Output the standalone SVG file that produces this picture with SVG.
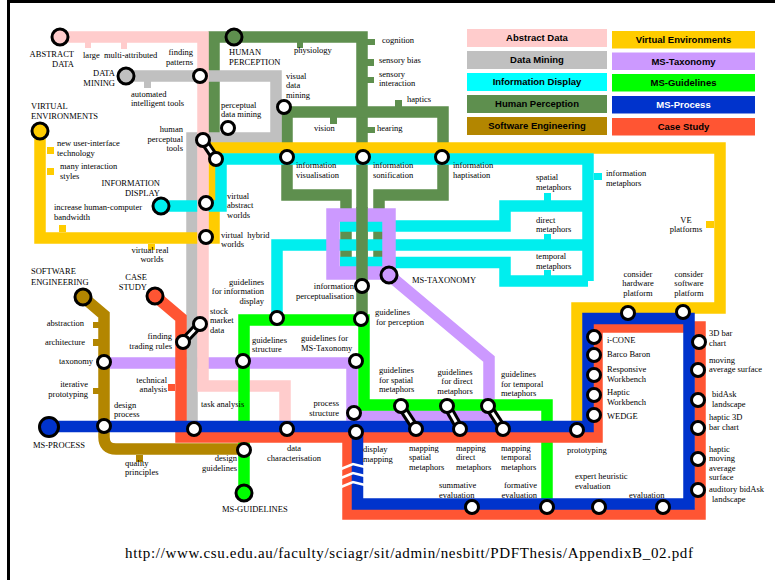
<svg xmlns="http://www.w3.org/2000/svg" width="775" height="580" viewBox="0 0 775 580">
<style>
.ln{fill:none;stroke-width:11.5;stroke-linejoin:miter}
.pk{stroke:#ffcccc}.gy{stroke:#c0c0c0}.cy{stroke:#00eeee}.hp{stroke:#5e8f4e}.se{stroke:#b38600}.ve{stroke:#ffcc00}.tx{stroke:#cc99ff}.gl{stroke:#00ff00}.pr{stroke:#0033cc}.cs{stroke:#ff5533}
.fpk{fill:#ffcccc}.fgy{fill:#c0c0c0}.fcy{fill:#00eeee}.fhp{fill:#5e8f4e}.fse{fill:#b38600}.fve{fill:#ffcc00}.ftx{fill:#cc99ff}.fgl{fill:#00ff00}.fpr{fill:#0033cc}.fcs{fill:#ff5533}
.st{fill:#fff;stroke:#000;stroke-width:3}
.tm{stroke:#000;stroke-width:3}
.tube{stroke:#000;stroke-width:9}
.tubei{stroke:#fff;stroke-width:3}
.brk{fill:none;stroke:#fff;stroke-width:2.5}
text{font-family:"Liberation Serif","Times New Roman",serif;font-size:8.5px;fill:#000}
.lg{font-family:"Liberation Sans",Arial,sans-serif;font-size:9.5px;font-weight:bold;text-anchor:middle}
.e{text-anchor:end}.m{text-anchor:middle}
</style>
<rect width="775" height="580" fill="#fff"/>
<g id="frame" stroke="#000" stroke-width="3">
<line x1="7" y1="1.5" x2="775" y2="1.5"/>
<line x1="8.5" y1="0" x2="8.5" y2="580"/>
</g>
<g id="legend">
<rect x="467" y="29" width="140" height="18" fill="#ffcccc"/><text class="lg" x="537" y="41">Abstract Data</text>
<rect x="467" y="51" width="140" height="18" fill="#c0c0c0"/><text class="lg" x="537" y="63">Data Mining</text>
<rect x="467" y="73" width="140" height="18" fill="#00ffff"/><text class="lg" x="537" y="85">Information Display</text>
<rect x="467" y="95" width="140" height="18" fill="#5e8f4e"/><text class="lg" x="537" y="107">Human Perception</text>
<rect x="467" y="117" width="140" height="18" fill="#b38600"/><text class="lg" x="537" y="129">Software Engineering</text>
<rect x="612" y="31" width="143" height="17.5" fill="#ffcc00"/><text class="lg" x="683.5" y="43">Virtual Environments</text>
<rect x="612" y="52.5" width="143" height="17.5" fill="#cc99ff"/><text class="lg" x="683.5" y="64.5">MS-Taxonomy</text>
<rect x="612" y="74" width="143" height="17.5" fill="#00ff00"/><text class="lg" x="683.5" y="86">MS-Guidelines</text>
<rect x="612" y="96" width="143" height="17.5" fill="#0033cc"/><text class="lg" x="683.5" y="108" style="fill:#fff">MS-Process</text>
<rect x="612" y="118" width="143" height="17.5" fill="#ff5533"/><text class="lg" x="683.5" y="130">Case Study</text>
</g>
<g id="connectors">
<path class="ln tx" d="M389,275 L489,359 V415 H352 V363 H104"/>
<g id="line-human-perception">
<path class="ln hp" d="M214,133 V37 H362 V320"/>
<path class="ln hp" d="M287,157 V112 H443 V157"/>
<path class="ln hp" d="M287,157 V195 H346 V267"/>
<path class="ln hp" d="M443,157 V195 H379 V267"/>
<rect class="fhp" x="297" y="42" width="6" height="6"/>
<rect class="fhp" x="367" y="39" width="8" height="6"/>
<rect class="fhp" x="367" y="59" width="7" height="7"/>
<rect class="fhp" x="367" y="77" width="7" height="6"/>
<rect class="fhp" x="395" y="100" width="7" height="7"/>
<rect class="fhp" x="330" y="117" width="7" height="7"/>
<rect class="fhp" x="367" y="127" width="8" height="6"/>
</g>
<g id="line-data-mining">
<path class="ln gy" d="M126,76 H276 V138 H192 V429"/>
<rect class="fgy" x="144" y="81" width="7" height="7"/>
</g>
<g id="line-virtual-environments">
<path class="ln ve" d="M40,131 V238 H214 V148 H720 V308 H577 V430"/>
<rect class="fve" x="47" y="147" width="7" height="7"/>
<rect class="fve" x="47" y="168" width="7" height="7"/>
<rect class="fve" x="59" y="225" width="7" height="7"/>
<rect class="fve" x="148" y="244" width="7" height="6"/>
<rect class="fve" x="706" y="221" width="8" height="7"/>
</g>
<g id="line-information-display">
<path class="ln cy" d="M161,206 H221 V159 H588 V281"/>
<path class="ln cy" d="M340,226 H505 V206 H588"/>
<path class="ln cy" d="M277,318 V245 H588"/>
<path class="ln cy" d="M340,262.5 H505 V281 H588"/>
<rect class="fcy" x="594" y="173" width="8" height="7"/>
<rect class="fcy" x="544" y="193" width="7" height="8"/>
<rect class="fcy" x="544" y="234" width="7" height="7"/>
<rect class="fcy" x="544" y="270" width="7" height="7"/>
</g>
<rect x="333" y="215" width="56" height="58" fill="none" stroke="#cc99ff" stroke-width="13.5"/>
<path class="ln hp" d="M362,207 V281"/>
<g id="line-abstract-data">
<path class="ln pk" d="M60,37 H203 V386 H285 V429"/>
<rect class="fpk" x="85" y="42" width="6" height="6"/>
<rect class="fpk" x="121" y="42" width="6" height="7"/>
</g>
<g id="line-software-engineering">
<path class="ln se" d="M83,297 L104,315 V437 Q104,449 116,449 H244"/>
<rect class="fse" x="93" y="322" width="6" height="6"/>
<rect class="fse" x="93" y="339" width="6" height="7"/>
<rect class="fse" x="93" y="388" width="6" height="6"/>
<rect class="fse" x="136" y="455" width="7" height="7"/>
</g>
<path class="ln gl" d="M244,493 V320 H364 V405 H547 V507"/>
<g id="line-case-study">
<path class="ln cs" d="M155,296 L181,318 V437 H597 V327 H700 V514 H348 V437"/>
<rect class="fcs" x="168" y="384" width="7" height="7"/>
</g>
<path class="ln pr" d="M49,426.5 H588 V318.5 H689 V504 H357.5 V426.5"/>
<path class="brk" d="M341,469 L353,464 L365,467"/>
<path class="brk" d="M341,478 L353,473 L365,476"/>
<path class="brk" d="M341,487 L353,482 L365,485"/>
<g id="links">
<line class="tube" x1="203" y1="140" x2="216" y2="159"/><line class="tubei" x1="203" y1="140" x2="216" y2="159"/>
<line class="tube" x1="200" y1="324" x2="183" y2="342"/><line class="tubei" x1="200" y1="324" x2="183" y2="342"/>
<line class="tube" x1="401" y1="406" x2="416" y2="429"/><line class="tubei" x1="401" y1="406" x2="416" y2="429"/>
<line class="tube" x1="447" y1="406" x2="460" y2="429"/><line class="tubei" x1="447" y1="406" x2="460" y2="429"/>
<line class="tube" x1="488" y1="406" x2="503" y2="429"/><line class="tubei" x1="488" y1="406" x2="503" y2="429"/>
</g>
</g>
<g id="n-abstract-data"><circle class="tm fpk" cx="60" cy="37" r="8"/><text class="e"><tspan x="74" y="57">ABSTRACT</tspan><tspan x="74" y="67">DATA</tspan></text></g>
<g id="n-large-multi"><text x="83" y="58">large</text><text x="104" y="58">multi-attributed</text></g>
<g id="n-finding-patterns"><circle class="st" cx="200" cy="76" r="6.5"/><text class="e"><tspan x="193" y="55">finding</tspan><tspan x="193" y="65">patterns</tspan></text></g>
<g id="n-human-perception"><circle class="tm fhp" cx="234" cy="37" r="8"/><text><tspan x="229" y="55">HUMAN</tspan><tspan x="229" y="65">PERCEPTION</tspan></text></g>
<g id="n-data-mining"><circle class="tm fgy" cx="126" cy="76" r="8"/><text class="e"><tspan x="115" y="76">DATA</tspan><tspan x="115" y="86">MINING</tspan></text></g>
<g id="n-automated"><text><tspan x="131" y="96.75">automated</tspan><tspan x="131" y="106.25">intelligent tools</tspan></text></g>
<g id="n-virtual-environments"><circle class="tm fve" cx="40" cy="131" r="8"/><text><tspan x="31" y="109">VIRTUAL</tspan><tspan x="31" y="119">ENVIRONMENTS</tspan></text></g>
<g id="n-perceptual-data-mining"><circle class="st" cx="228" cy="128" r="6.5"/><text><tspan x="221" y="107.75">perceptual</tspan><tspan x="221" y="117.25">data mining</tspan></text></g>
<g id="n-human-perceptual-tools"><circle class="st" cx="203" cy="140" r="6.5"/><circle class="st" cx="216" cy="159" r="6.5"/><text class="e"><tspan x="183" y="132.2">human</tspan><tspan x="183" y="141.7">perceptual</tspan><tspan x="183" y="151.2">tools</tspan></text></g>
<g id="n-new-ui"><text><tspan x="57" y="146.25">new user-interface</tspan><tspan x="57" y="155.75">technology</tspan></text></g>
<g id="n-many-interaction"><text><tspan x="60" y="169.25">many interaction</tspan><tspan x="60" y="178.75">styles</tspan></text></g>
<g id="n-physiology"><text x="294" y="53">physiology</text></g>
<g id="n-cognition"><text x="382" y="43">cognition</text></g>
<g id="n-sensory-bias"><text x="379" y="63">sensory bias</text></g>
<g id="n-sensory-interaction"><text><tspan x="379" y="76.75">sensory</tspan><tspan x="379" y="86.25">interaction</tspan></text></g>
<g id="n-visual-data-mining"><circle class="st" cx="284" cy="107" r="6.5"/><text><tspan x="286" y="78.5">visual</tspan><tspan x="286" y="88">data</tspan><tspan x="286" y="97.5">mining</tspan></text></g>
<g id="n-haptics"><text x="407" y="102">haptics</text></g>
<g id="n-vision"><text x="314" y="131">vision</text></g>
<g id="n-hearing"><text x="377" y="131">hearing</text></g>
<g id="n-info-visualisation"><circle class="st" cx="287" cy="157" r="6.5"/><text><tspan x="296" y="168.25">information</tspan><tspan x="296" y="177.75">visualisation</tspan></text></g>
<g id="n-info-sonification"><circle class="st" cx="363" cy="157" r="6.5"/><text><tspan x="373" y="168.25">information</tspan><tspan x="373" y="177.75">sonification</tspan></text></g>
<g id="n-info-haptisation"><circle class="st" cx="442" cy="157" r="6.5"/><text><tspan x="453" y="168.25">information</tspan><tspan x="453" y="177.75">haptisation</tspan></text></g>
<g id="n-spatial-metaphors"><text><tspan x="536" y="180.25">spatial</tspan><tspan x="536" y="189.75">metaphors</tspan></text></g>
<g id="n-direct-metaphors"><text><tspan x="536" y="222.75">direct</tspan><tspan x="536" y="232.25">metaphors</tspan></text></g>
<g id="n-temporal-metaphors"><text><tspan x="536" y="259.25">temporal</tspan><tspan x="536" y="268.75">metaphors</tspan></text></g>
<g id="n-information-metaphors"><text><tspan x="606" y="176.25">information</tspan><tspan x="606" y="185.75">metaphors</tspan></text></g>
<g id="n-ve-platforms"><text class="m"><tspan x="686" y="222.75">VE</tspan><tspan x="686" y="232.25">platforms</tspan></text></g>
<g id="n-hardware-platform"><circle class="st" cx="628" cy="313" r="6.5"/><text class="m"><tspan x="638" y="276.5">consider</tspan><tspan x="638" y="286">hardware</tspan><tspan x="638" y="295.5">platform</tspan></text></g>
<g id="n-software-platform"><circle class="st" cx="683" cy="312" r="6.5"/><text class="m"><tspan x="689" y="276.5">consider</tspan><tspan x="689" y="286">software</tspan><tspan x="689" y="295.5">platform</tspan></text></g>
<g id="n-ms-taxonomy"><circle class="tm ftx" cx="389" cy="275" r="8"/><text x="412" y="283">MS-TAXONOMY</text></g>
<g id="n-information-display"><circle class="tm fcy" cx="161" cy="206" r="8"/><text class="e"><tspan x="160" y="186">INFORMATION</tspan><tspan x="160" y="196">DISPLAY</tspan></text></g>
<g id="n-bandwidth"><text><tspan x="54" y="210.25">increase human-computer</tspan><tspan x="54" y="219.75">bandwidth</tspan></text></g>
<g id="n-virtual-abstract"><circle class="st" cx="206" cy="203" r="6.5"/><text><tspan x="227" y="198.8">virtual</tspan><tspan x="227" y="208.3">abstract</tspan><tspan x="227" y="217.8">worlds</tspan></text></g>
<g id="n-virtual-hybrid"><circle class="st" cx="206" cy="237" r="6.5"/><text word-spacing="2"><tspan x="221" y="237.75">virtual hybrid</tspan><tspan x="221" y="247.25">worlds</tspan></text></g>
<g id="n-virtual-real"><text class="m"><tspan x="150" y="252.75">virtual real</tspan><tspan x="152" y="262.25">worlds</tspan></text></g>
<g id="n-software-engineering"><circle class="tm fse" cx="83" cy="297" r="8"/><text><tspan x="31" y="274">SOFTWARE</tspan><tspan x="31" y="285">ENGINEERING</tspan></text></g>
<g id="n-case-study"><circle class="tm fcs" cx="155" cy="296" r="8"/><text class="e"><tspan x="147" y="280">CASE</tspan><tspan x="147" y="290">STUDY</tspan></text></g>
<g id="n-guidelines-info-display"><circle class="st" cx="277" cy="318" r="6.5"/><text class="e"><tspan x="264" y="284.5">guidelines</tspan><tspan x="264" y="294">for information</tspan><tspan x="264" y="303.5">display</tspan></text></g>
<g id="n-stock-market"><circle class="st" cx="200" cy="324" r="6.5"/><text><tspan x="210" y="313.5">stock</tspan><tspan x="210" y="323">market</tspan><tspan x="210" y="332.5">data</tspan></text></g>
<g id="n-trading-rules"><circle class="st" cx="183" cy="342" r="6.5"/><text class="e"><tspan x="172" y="339.25">finding</tspan><tspan x="172" y="348.75">trading rules</tspan></text></g>
<g id="n-info-perceptualisation"><circle class="st" cx="362" cy="286" r="6.5"/><text class="e"><tspan x="354" y="289.25">information</tspan><tspan x="354" y="298.75">perceptualisation</tspan></text></g>
<g id="n-guidelines-perception"><circle class="st" cx="361" cy="319" r="6.5"/><text><tspan x="375" y="315.25">guidelines</tspan><tspan x="376" y="324.75">for perception</tspan></text></g>
<g id="n-abstraction"><text class="e" x="84" y="326">abstraction</text></g>
<g id="n-architecture"><text class="e" x="85" y="345">architecture</text></g>
<g id="n-taxonomy"><circle class="st" cx="104" cy="362" r="6.5"/><text class="e" x="93" y="364">taxonomy</text></g>
<g id="n-iterative"><text class="e"><tspan x="88" y="387.25">iterative</tspan><tspan x="88" y="396.75">prototyping</tspan></text></g>
<g id="n-design-process"><circle class="st" cx="104" cy="426" r="6.5"/><text><tspan x="114" y="407.75">design</tspan><tspan x="114" y="417.25">process</tspan></text></g>
<g id="n-technical-analysis"><text class="e"><tspan x="167" y="382.75">technical</tspan><tspan x="167" y="392.25">analysis</tspan></text></g>
<g id="n-task-analysis"><circle class="st" cx="194" cy="429" r="6.5"/><text x="201" y="407">task analysis</text></g>
<g id="n-ms-process"><circle class="tm fpr" cx="49" cy="427" r="9.5"/><text x="33" y="448">MS-PROCESS</text></g>
<g id="n-quality"><text><tspan x="125" y="465.75">quality</tspan><tspan x="125" y="475.25">principles</tspan></text></g>
<g id="n-design-guidelines"><circle class="st" cx="244" cy="450" r="6.5"/><text class="e"><tspan x="237" y="461.25">design</tspan><tspan x="237" y="470.75">guidelines</tspan></text></g>
<g id="n-ms-guidelines"><circle class="tm fgl" cx="244" cy="493" r="8"/><text x="222" y="512">MS-GUIDELINES</text></g>
<g id="n-guidelines-structure"><circle class="st" cx="243" cy="361" r="6.5"/><text><tspan x="252" y="342.75">guidelines</tspan><tspan x="252" y="352.25">structure</tspan></text></g>
<g id="n-guidelines-ms-taxonomy"><circle class="st" cx="356" cy="361" r="6.5"/><text><tspan x="301" y="341.25">guidelines for</tspan><tspan x="301" y="350.75">MS-Taxonomy</tspan></text></g>
<g id="n-process-structure"><circle class="st" cx="354" cy="413" r="6.5"/><text class="e"><tspan x="339" y="406.25">process</tspan><tspan x="339" y="415.75">structure</tspan></text></g>
<g id="n-data-characterisation"><circle class="st" cx="287" cy="429" r="6.5"/><text class="m"><tspan x="294" y="451.25">data</tspan><tspan x="294" y="460.75">characterisation</tspan></text></g>
<g id="n-display-mapping"><circle class="st" cx="356" cy="432" r="6.5"/><text><tspan x="363" y="452.25">display</tspan><tspan x="363" y="461.75">mapping</tspan></text></g>
<g id="n-guidelines-spatial"><circle class="st" cx="401" cy="406" r="6.5"/><text><tspan x="379" y="373.2">guidelines</tspan><tspan x="379" y="382.7">for spatial</tspan><tspan x="379" y="392.2">metaphors</tspan></text></g>
<g id="n-guidelines-direct"><circle class="st" cx="447" cy="406" r="6.5"/><text class="m"><tspan x="455" y="374.8">guidelines</tspan><tspan x="457" y="384.3">for direct</tspan><tspan x="455" y="393.8">metaphors</tspan></text></g>
<g id="n-guidelines-temporal"><circle class="st" cx="488" cy="406" r="6.5"/><text><tspan x="501" y="377.2">guidelines</tspan><tspan x="501" y="386.7">for temporal</tspan><tspan x="501" y="396.2">metaphors</tspan></text></g>
<g id="n-mapping-spatial"><circle class="st" cx="416" cy="429" r="6.5"/><text><tspan x="409" y="450.5">mapping</tspan><tspan x="409" y="460">spatial</tspan><tspan x="409" y="469.5">metaphors</tspan></text></g>
<g id="n-mapping-direct"><circle class="st" cx="460" cy="429" r="6.5"/><text><tspan x="456" y="450.5">mapping</tspan><tspan x="456" y="460">direct</tspan><tspan x="456" y="469.5">metaphors</tspan></text></g>
<g id="n-mapping-temporal"><circle class="st" cx="503" cy="429" r="6.5"/><text><tspan x="501" y="450.5">mapping</tspan><tspan x="501" y="460">temporal</tspan><tspan x="501" y="469.5">metaphors</tspan></text></g>
<g id="n-summative"><circle class="st" cx="472" cy="507" r="6.5"/><text><tspan x="439" y="488.25">summative</tspan><tspan x="439" y="497.75">evaluation</tspan></text></g>
<g id="n-formative"><circle class="st" cx="547" cy="507" r="6.5"/><text class="e"><tspan x="537" y="488.25">formative</tspan><tspan x="537" y="497.75">evaluation</tspan></text></g>
<g id="n-prototyping"><circle class="st" cx="577" cy="430" r="6.5"/><text x="567" y="453">prototyping</text></g>
<g id="n-expert-heuristic"><circle class="st" cx="599" cy="507" r="6.5"/><text><tspan x="575" y="479.25">expert heuristic</tspan><tspan x="575" y="488.75">evaluation</tspan></text></g>
<g id="n-evaluation"><circle class="st" cx="663" cy="507" r="6.5"/><text x="629" y="498">evaluation</text></g>
<g id="n-i-cone"><circle class="st" cx="594" cy="337" r="6.5"/><text x="607" y="343">i-CONE</text></g>
<g id="n-barco-baron"><circle class="st" cx="594" cy="355" r="6.5"/><text x="607" y="357">Barco Baron</text></g>
<g id="n-responsive-workbench"><circle class="st" cx="594" cy="375" r="6.5"/><text><tspan x="607" y="372.25">Responsive</tspan><tspan x="607" y="381.75">Workbench</tspan></text></g>
<g id="n-haptic-workbench"><circle class="st" cx="594" cy="395" r="6.5"/><text><tspan x="607" y="395.25">Haptic</tspan><tspan x="607" y="404.75">Workbench</tspan></text></g>
<g id="n-wedge"><circle class="st" cx="594" cy="415" r="6.5"/><text x="607" y="419">WEDGE</text></g>
<g id="n-3d-bar-chart"><circle class="st" cx="699" cy="342" r="6.5"/><text><tspan x="709" y="336.25">3D bar</tspan><tspan x="709" y="345.75">chart</tspan></text></g>
<g id="n-moving-average"><circle class="st" cx="698" cy="370" r="6.5"/><text><tspan x="709" y="362.75">moving</tspan><tspan x="709" y="372.25">average surface</tspan></text></g>
<g id="n-bidask"><circle class="st" cx="698" cy="400" r="6.5"/><text><tspan x="712" y="397.25">bidAsk</tspan><tspan x="712" y="406.75">landscape</tspan></text></g>
<g id="n-haptic-3d"><circle class="st" cx="698" cy="428" r="6.5"/><text><tspan x="709" y="420.25">haptic 3D</tspan><tspan x="709" y="429.75">bar chart</tspan></text></g>
<g id="n-haptic-moving"><circle class="st" cx="698" cy="459" r="6.5"/><text><tspan x="709" y="451.5">haptic</tspan><tspan x="709" y="461">moving</tspan><tspan x="709" y="470.5">average</tspan><tspan x="709" y="480">surface</tspan></text></g>
<g id="n-auditory-bidask"><circle class="st" cx="698" cy="490" r="6.5"/><text><tspan x="709" y="492.25">auditory bidAsk</tspan><tspan x="712" y="501.75">landscape</tspan></text></g>
<text id="url" x="125" y="558" textLength="568" lengthAdjust="spacing" style="font-size:15px">http://www.csu.edu.au/faculty/sciagr/sit/admin/nesbitt/PDFThesis/AppendixB_02.pdf</text>
</svg>
